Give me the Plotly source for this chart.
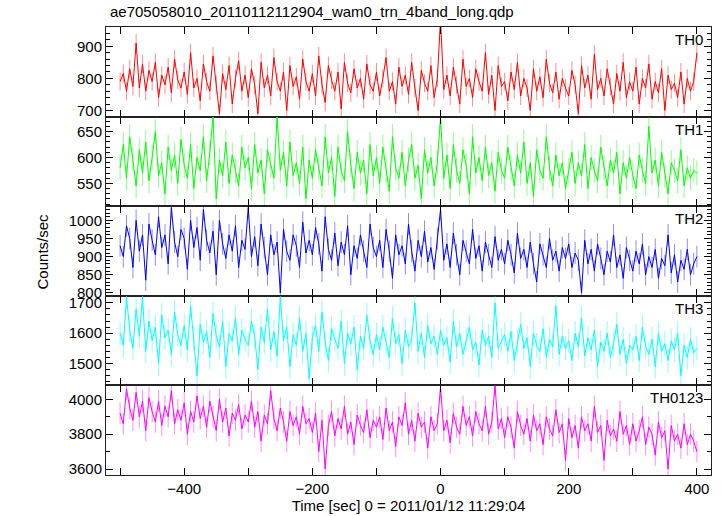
import plotly.graph_objects as go
from plotly.subplots import make_subplots

title_text = "ae705058010_20110112112904_wam0_trn_4band_long.qdp"
band_names = ["TH0", "TH1", "TH2", "TH3", "TH0123"]
band_colors = ["#ff0000", "#00ff00", "#0000ff", "#00ffff", "#ff00ff"]
band_err_colors = ["rgba(255,0,0,0.45)", "rgba(0,255,0,0.45)", "rgba(0,0,255,0.45)",
                   "rgba(0,255,255,0.45)", "rgba(255,0,255,0.45)"]

# time bins (sec), 5-s sampling from -500 to 400
time_sec = list(range(-500, 401, 5))

th0 = [
    790, 815, 760, 830, 775, 910, 770, 845, 760, 825, 790, 850, 740, 810, 780, 835, 755, 860, 795, 770,
    820, 750, 880, 770, 800, 730, 845, 790, 760, 870, 780, 690, 815, 765, 840, 720, 800, 855, 760, 810,
    740, 830, 780, 690, 850, 770, 810, 745, 865, 790, 760, 820, 700, 840, 775, 805, 735, 860, 790, 760,
    815, 745, 870, 780, 725, 840, 795, 760, 820, 705, 850, 785, 755, 830, 770, 800, 735, 845, 780, 760,
    820, 745, 800, 865, 760, 790, 720, 835, 775, 810, 750, 850, 770, 700, 825, 785, 760, 840, 740, 800,
    985, 765, 810, 745, 835, 780, 720, 860, 775, 800, 740, 830, 790, 760, 880, 750, 810, 700, 840, 775,
    790, 730, 820, 765, 850, 745, 800, 770, 700, 830, 760, 805, 740, 860, 785, 755, 820, 735, 800, 770,
    745, 825, 780, 690, 840, 770, 810, 735, 875, 765, 800, 745, 830, 775, 720, 815, 760, 850, 740, 790,
    760, 835, 720, 800, 770, 845, 735, 790, 755, 830, 700, 810, 765, 785, 740, 820, 720, 800, 760, 790,
    880,
]
th1 = [
    580, 625, 560, 640, 595, 545, 615, 570, 630, 555, 600, 650, 565, 590, 530, 620, 575, 605, 550, 635,
    585, 560, 625, 540, 600, 575, 640, 555, 610, 680, 520, 595, 565, 630, 550, 605, 575, 545, 620, 580,
    600, 540, 625, 570, 595, 530, 615, 585, 560, 680, 575, 610, 545, 630, 565, 590, 550, 620, 520, 595,
    560, 615, 580, 545, 640, 570, 600, 525, 620, 575, 555, 650, 585, 540, 610, 570, 595, 530, 625, 565,
    600, 550, 620, 575, 535, 640, 580, 560, 610, 545, 595, 625, 560, 585, 520, 615, 570, 600, 545, 590,
    678, 560, 605, 540, 625, 575, 550, 615, 585, 530, 640, 570, 600, 555, 620, 565, 590, 535, 610, 575,
    560, 620, 580, 545, 605, 570, 630, 550, 590, 525, 615, 575, 560, 640, 580, 545, 605, 565, 590, 540,
    575, 610, 550, 590, 565, 625, 540, 600, 575, 555, 620, 580, 545, 595, 570, 610, 530, 590, 560, 600,
    565, 540, 605, 575, 550, 660, 570, 595, 545, 610, 565, 530, 590, 575, 555, 615, 545, 580, 560, 575,
    570,
]
th2 = [
    930, 900, 985, 950, 870, 1000, 915, 960, 835, 990, 945, 905, 1010, 925, 960, 880, 1035, 940, 900, 975,
    950, 865, 1000, 925, 980, 890, 1030, 945, 910, 970, 850, 1000, 935, 895, 960, 915, 985, 870, 945, 920,
    1035, 900, 955, 875, 990, 925, 850, 960, 905, 940, 800, 975, 915, 890, 960, 930, 870, 995, 910, 945,
    905, 980, 935, 860, 1010, 920, 890, 965, 875, 940, 905, 985, 850, 930, 895, 960, 915, 870, 990, 925,
    900, 945, 870, 975, 915, 840, 960, 905, 930, 880, 990, 915, 860, 945, 900, 970, 885, 925, 865, 950,
    1030, 890, 935, 870, 965, 905, 850, 945, 915, 880, 975, 895, 930, 860, 940, 905, 870, 955, 890, 920,
    880, 945, 905, 855, 965, 895, 920, 870, 940, 880, 830, 935, 905, 870, 950, 890, 915, 860, 925, 895,
    935, 870, 910, 890, 800, 945, 880, 920, 860, 935, 895, 850, 915, 885, 960, 870, 905, 840, 925, 890,
    860, 915, 880, 935, 850, 900, 870, 920, 840, 895, 875, 960, 855, 905, 830, 890, 865, 920, 850, 880,
    900,
]
th3 = [
    1600, 1560, 1720, 1610, 1550, 1680, 1590, 1720, 1540, 1640, 1575, 1620, 1500, 1660, 1585, 1610, 1530, 1670, 1595, 1560,
    1625, 1545, 1690, 1580, 1460, 1630, 1570, 1605, 1520, 1665, 1590, 1555, 1640, 1490, 1600, 1575, 1650, 1530, 1610, 1580,
    1560, 1640, 1590, 1480, 1620, 1570, 1680, 1545, 1605, 1525, 1720, 1575, 1620, 1490, 1595, 1560, 1650, 1540, 1600, 1450,
    1585, 1625, 1540, 1670, 1570, 1510, 1615, 1580, 1550, 1640, 1500, 1600, 1565, 1620, 1480, 1590, 1550, 1660, 1575, 1530,
    1595, 1545, 1620, 1570, 1520, 1650, 1565, 1595, 1500, 1610, 1555, 1580, 1700, 1540, 1600, 1520, 1625, 1565, 1590, 1530,
    1610, 1560, 1585, 1505, 1640, 1555, 1600, 1530, 1580, 1620, 1545, 1570, 1495, 1610, 1560, 1590, 1520, 1700, 1550, 1575,
    1595, 1540, 1605, 1510, 1570, 1630, 1550, 1585, 1490, 1600, 1560, 1540, 1615, 1520, 1580, 1555, 1690, 1530, 1590, 1550,
    1575, 1510, 1600, 1555, 1650, 1525, 1585, 1545, 1610, 1490, 1570, 1540, 1600, 1520, 1565, 1630, 1530, 1580, 1500, 1560,
    1545, 1590, 1510, 1620, 1555, 1530, 1580, 1490, 1600, 1540, 1565, 1510, 1575, 1545, 1600, 1460, 1560, 1520, 1580, 1535,
    1550,
]
th0123 = [
    3920, 3860, 4060, 3950, 3880, 4040, 3900, 3990, 3820, 4010, 3930, 3870, 3990, 3850, 3960, 3900, 4050, 3860, 3940, 3880,
    3980, 3800, 3930, 3870, 4020, 3890, 3960, 3840, 3990, 3900, 3820, 4000, 3870, 3950, 3790, 3920, 3880, 3970, 3830, 3910,
    3870, 3990, 3840, 3930, 3760, 3910, 3860, 4050, 3890, 3820, 3950, 3870, 3760, 3930, 3850, 3900, 3800, 3960, 3860, 3890,
    3810, 3920, 3700, 3880, 3600, 3850, 3930, 3790, 3890, 3830, 3960, 3800, 3870, 3740, 3910, 3850, 3810, 3940, 3780, 3880,
    3840, 3900, 3770, 3950, 3820, 3870, 3730, 3900, 3850, 3980, 3800, 3880, 3760, 3920, 3840, 3870, 3720, 3900, 3820, 3860,
    4070, 3820, 3880, 3750, 3920, 3840, 3800, 3960, 3850, 3900, 3790, 3930, 3860, 3820, 3960, 3800, 3870, 4080, 3830, 3890,
    3780, 3900, 3840, 3720, 3930, 3850, 3800, 3890, 3760, 3910, 3820, 3860, 3740, 3900, 3830, 3790, 3940, 3810, 3860, 3650,
    3890, 3780, 3850, 3720, 3900, 3820, 3860, 3760, 3960, 3810, 3850, 3650, 3880, 3790, 3830, 3760, 3930, 3800, 3850, 3740,
    3860, 3760, 3820, 3900, 3740, 3840, 3800, 3680, 3870, 3780, 3820, 3600, 3850, 3760, 3800, 3720, 3860, 3740, 3800, 3760,
    3700,
]
series = [th0, th1, th2, th3, th0123]
# typical 1-sigma error per band (counts/sec)
band_errors = [28, 24, 30, 40, 62]

y_ranges = [[681, 960], [506, 679], [792, 1039], [1428, 1723], [3566, 4080]]
y_major = [100, 50, 50, 100, 200]
y_minor = [20, 10, 10, 20, 100]

x_range = [-522, 422]
x_tickvals = list(range(-500, 401, 100))
x_ticktext = ["", "\u2212400", "", "\u2212200", "", "0", "", "200", "", "400"]

FONT = "Liberation Sans, Arial, Helvetica, sans-serif"

fig = make_subplots(rows=5, cols=1, shared_xaxes=True, vertical_spacing=0)

for i, (name, col, ys) in enumerate(zip(band_names, band_colors, series)):
    r = i + 1
    fig.add_trace(
        go.Scatter(x=time_sec, y=ys, mode="lines", line=dict(color=col, width=1),
                   error_y=dict(type="constant", value=band_errors[i], width=0,
                                thickness=1, color=band_err_colors[i]),
                   name=name, showlegend=False),
        row=r, col=1,
    )
    fig.update_yaxes(
        range=y_ranges[i], dtick=y_major[i], ticks="inside", ticklen=7,
        tickcolor="black", showline=True, linecolor="#222", linewidth=1,
        mirror="allticks", showgrid=False, zeroline=False, automargin=False,
        tickfont=dict(family=FONT, size=15, color="black"),
        minor=dict(dtick=y_minor[i], ticks="inside", ticklen=4, tickcolor="black"),
        row=r, col=1,
    )
    fig.update_xaxes(
        range=x_range, tickvals=x_tickvals, ticktext=x_ticktext,
        ticks="inside", ticklen=7, tickcolor="black",
        showline=True, linecolor="#222", linewidth=1, mirror="allticks",
        showgrid=False, zeroline=False, showticklabels=(r == 5), automargin=False,
        tickfont=dict(family=FONT, size=15, color="black"),
        row=r, col=1,
    )
    yref = "y domain" if r == 1 else f"y{r} domain"
    xref = "x domain" if r == 1 else f"x{r} domain"
    fig.add_annotation(
        text=name, x=0.99, y=1.0, xref=xref, yref=yref, yshift=-2,
        xanchor="right", yanchor="top", showarrow=False,
        font=dict(family=FONT, size=15, color="black"),
    )

fig.update_xaxes(title_text="Time [sec] 0 = 2011/01/12 11:29:04",
                 title_font=dict(family=FONT, size=15, color="black"),
                 title_standoff=2, row=5, col=1)

fig.add_annotation(
    text="Counts/sec", x=-0.105, y=0.5, xref="paper", yref="paper",
    xanchor="center", yanchor="middle", showarrow=False, textangle=-90,
    font=dict(family=FONT, size=15, color="black"),
)

fig.update_layout(
    width=723, height=516,
    margin=dict(l=106, r=12, t=27, b=41, pad=0),
    paper_bgcolor="white", plot_bgcolor="white",
    title=dict(text=title_text, x=110 / 723, xanchor="left", y=1 - 12 / 516, yanchor="middle",
               font=dict(family=FONT, size=15, color="black")),
)

fig.write_html("out.html",
               config={"displayModeBar": False},
               post_script="document.body.style.margin='0px';document.body.style.overflow='hidden';")
